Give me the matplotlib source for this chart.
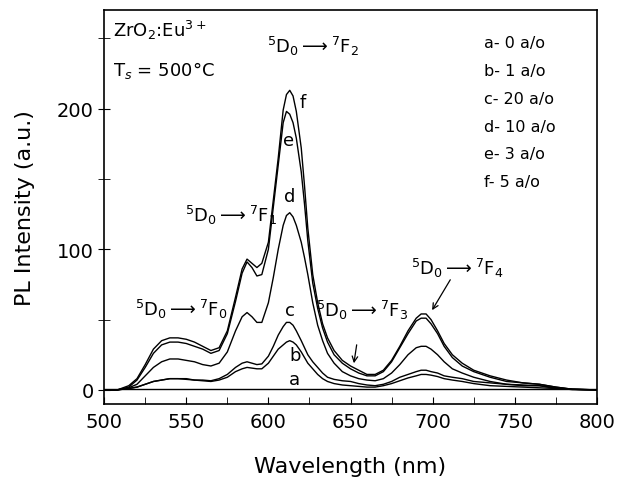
import matplotlib
matplotlib.use('Agg')
import matplotlib.pyplot as plt
import numpy as np

# wavelength grid (nm) and PL intensity (a.u.)
wl = [500, 508, 515, 520, 525, 530, 535, 540, 545, 550, 555, 560, 565, 570, 575,
      580, 584, 587, 590, 593, 596, 600, 603, 606, 609, 611, 613, 615, 617, 620,
      622, 624, 627, 630, 633, 636, 640, 645, 650, 655, 660, 665, 670, 675, 680,
      685, 690, 693, 696, 699, 703, 707, 712, 718, 725, 735, 745, 755, 765, 775,
      785, 800]

f_5 = [0, 0, 3, 8, 18, 29, 35, 37, 37, 36, 34, 31, 28, 30, 42,
       66, 86, 93, 90, 87, 90, 105, 135, 165, 199, 210, 213, 209, 198, 172,
       145, 115, 82, 62, 47, 37, 28, 21, 17, 14, 11, 11, 14, 21, 31,
       42, 51, 54, 54, 50, 42, 33, 25, 19, 14, 10, 7, 5, 4, 2,
       0.5, 0]
e_3 = [0, 0, 2, 7, 16, 26, 32, 34, 34, 33, 31, 29, 26, 28, 40,
       63, 83, 91, 87, 81, 82, 100, 130, 160, 190, 198, 196, 190, 179, 155,
       132, 106, 76, 58, 44, 34, 25, 19, 15, 12, 10, 10, 13, 20, 30,
       40, 49, 51, 51, 47, 40, 31, 23, 17, 13, 9, 6, 5, 4, 2,
       0.5, 0]
d_10 = [0, 0, 1.5, 4, 10, 16, 20, 22, 22, 21, 20, 18, 17, 19, 27,
        42, 52, 55, 52, 48, 48, 62, 80, 100, 117, 124, 126, 123, 117, 105,
        94, 82, 62, 46, 35, 26, 19, 13, 10, 8, 7, 6.5, 8, 12, 18,
        25, 30, 31, 31, 29, 25, 20, 15, 12, 9, 6, 4, 3, 3, 1.5,
        0.5, 0]
c_20 = [0, 0, 1, 2, 4, 6, 7, 8, 8, 8, 7, 7, 6.5, 8, 11,
        16, 19, 20, 19, 18, 18.5, 24, 31, 39, 45, 48, 48, 46, 42, 35,
        30, 25, 20, 16, 12, 9, 7.5, 6.5, 6, 4.5, 3.5, 3, 4, 6, 9,
        11, 13, 14, 14, 13, 12, 10, 9, 8, 6, 5, 4, 3.5, 3, 1,
        0.3, 0]
b_1 = [0, 0, 1, 2, 4, 6, 7, 8, 8, 7.5, 7, 6.5, 6, 7, 9,
       13, 15, 16, 15.5, 15, 15, 19, 24, 29, 32, 34, 35, 34, 32, 27,
       23, 19, 15, 11, 8, 6, 4.5, 3.5, 3, 2.5, 2, 2, 3, 4.5, 6.5,
       8.5, 10, 11, 11, 10.5, 9.5, 8, 7, 6, 4.5, 3, 2.5, 2, 1.5, 1,
       0.3, 0]
a_0 = [0.5] * len(wl)

curves = [a_0, b_1, c_20, d_10, e_3, f_5]
curve_ids = ['a', 'b', 'c', 'd', 'e', 'f']
curve_label_x = [616, 616, 613, 613, 612, 621]
curve_label_y = [8, 25, 57, 138, 178, 205]

legend_lines = ['a- 0 a/o', 'b- 1 a/o', 'c- 20 a/o', 'd- 10 a/o', 'e- 3 a/o', 'f- 5 a/o']

fig = plt.figure(figsize=(6.35, 4.85), dpi=100)
ax = fig.add_axes([0.164, 0.165, 0.776, 0.812])

for y in curves:
    ax.plot(wl, y, color='black', lw=1.0)

for cid, cx, cy in zip(curve_ids, curve_label_x, curve_label_y):
    ax.text(cx, cy, cid, fontsize=13, ha='center', va='center')

ax.text(505.5, 256, r'ZrO$_2$:Eu$^{3+}$', fontsize=13, ha='left', va='center')
ax.text(505.5, 228, r'T$_s$ = 500°C', fontsize=13, ha='left', va='center')

for i, s in enumerate(legend_lines):
    ax.text(731, 247 - i * 19.8, s, fontsize=11.5, ha='left', va='center')

arrow = r'$\longrightarrow$'
ax.text(627, 245, r'$^5$D$_0$' + arrow + r'$^7$F$_2$', fontsize=13, ha='center', va='center')
ax.text(577, 125, r'$^5$D$_0$' + arrow + r'$^7$F$_1$', fontsize=13, ha='center', va='center')
ax.text(547, 58, r'$^5$D$_0$' + arrow + r'$^7$F$_0$', fontsize=13, ha='center', va='center')
ax.text(657, 57, r'$^5$D$_0$' + arrow + r'$^7$F$_3$', fontsize=13, ha='center', va='center')
ax.text(715, 87, r'$^5$D$_0$' + arrow + r'$^7$F$_4$', fontsize=13, ha='center', va='center')

ax.annotate('', xy=(651.8, 17), xytext=(654, 34),
            arrowprops=dict(arrowstyle='->', color='black', lw=0.9))
ax.annotate('', xy=(698.8, 55), xytext=(711.6, 80),
            arrowprops=dict(arrowstyle='->', color='black', lw=0.9))

ax.set_xlim(500, 800)
ax.set_ylim(-10, 270)
ax.set_xticks([500, 550, 600, 650, 700, 750, 800])
ax.set_xticks(np.arange(525, 800, 50), minor=True)
ax.set_yticks([0, 100, 200])
ax.set_yticks([50, 150, 250], minor=True)
ax.tick_params(axis='x', which='both', direction='in', length=5, labelsize=14, pad=6)
ax.tick_params(axis='y', which='both', direction='inout', length=8, labelsize=14)
for sp in ax.spines.values():
    sp.set_linewidth(1.2)

ax.set_xlabel('Wavelength (nm)', fontsize=16, labelpad=18)
ax.set_ylabel('PL Intensity (a.u.)', fontsize=16, labelpad=16)

fig.savefig('out.png', dpi=100)
